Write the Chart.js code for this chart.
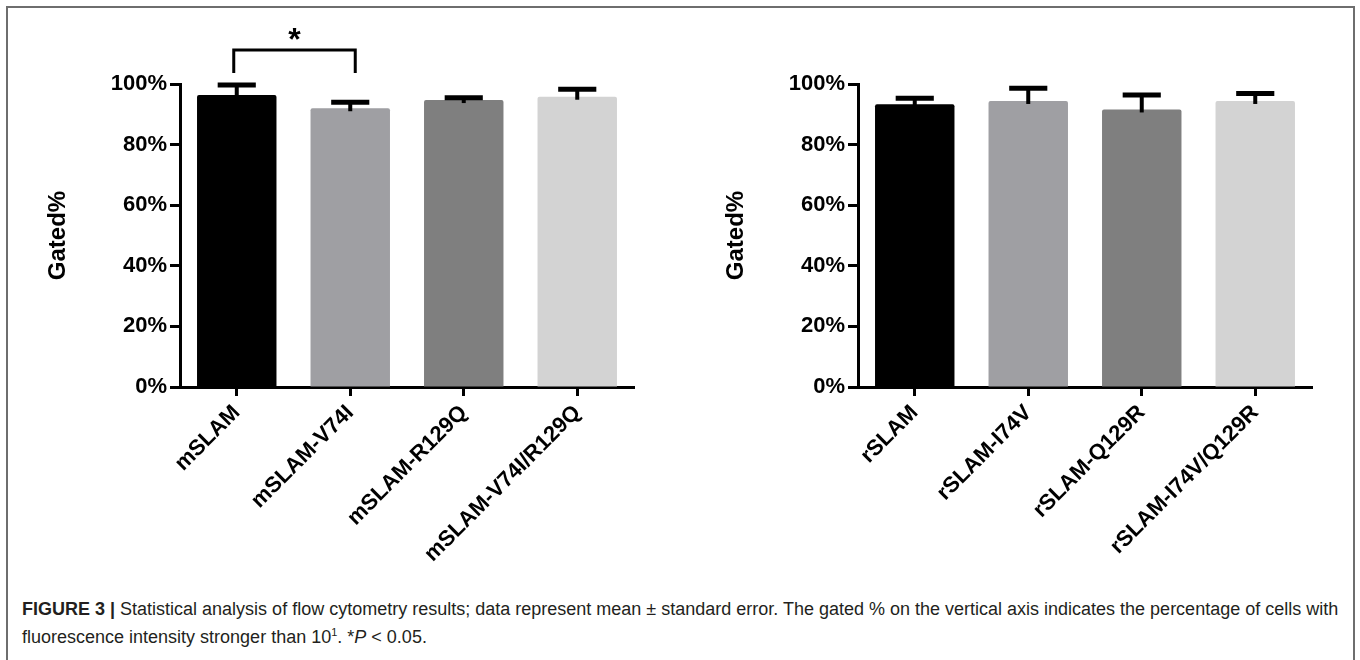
<!DOCTYPE html>
<html><head><meta charset="utf-8">
<script src="https://cdn.jsdelivr.net/npm/chart.js@4.4.0/dist/chart.umd.min.js"></script>
<style>
html,body{margin:0;padding:0;background:#fff;width:1360px;height:660px;overflow:hidden;}
#frame{position:absolute;left:6px;top:6px;width:1349px;height:720px;border:2px solid #6e6e6e;box-sizing:border-box;}
.wrap{position:absolute;top:0;width:680px;height:580px;}
#caption{position:absolute;left:22px;top:595px;font-family:"Liberation Sans",Arial,sans-serif;font-size:18px;line-height:28px;color:#231f20;white-space:nowrap;}
#caption sup{font-size:11px;line-height:0;}
</style></head><body>
<div id="frame"></div>
<div class="wrap" style="left:0"><canvas id="c1" width="680" height="580"></canvas></div>
<div class="wrap" style="left:680px"><canvas id="c2" width="680" height="580"></canvas></div>
<div id="caption"><b>FIGURE 3 |</b> Statistical analysis of flow cytometry results; data represent mean ± standard error. The gated % on the vertical axis indicates the percentage of cells with<br>fluorescence intensity stronger than 10<sup>1</sup>. *<i>P</i> &lt; 0.05.</div>
<script>
// ---- data ----
const mCategories = ['mSLAM', 'mSLAM-V74I', 'mSLAM-R129Q', 'mSLAM-V74I/R129Q'];
const mMeans = [96.4, 92.0, 94.7, 95.8];
const mErrors = [3.3, 2.0, 0.8, 2.5];
const rCategories = ['rSLAM', 'rSLAM-I74V', 'rSLAM-Q129R', 'rSLAM-I74V/Q129R'];
const rMeans = [93.3, 94.4, 91.6, 94.4];
const rErrors = [2.0, 4.2, 4.8, 2.5];
const barColors = ['#000000', '#9f9fa3', '#7f7f7f', '#d3d3d3'];
const yTicks = [0, 20, 40, 60, 80, 100];
const yTitle = 'Gated%';
const sigFrom = 0, sigTo = 1, sigLabel = '*';
const sigLegLow = 103.6, sigTop = 111.2, sigStar = 116.5;

const FONT = '"Liberation Sans", Arial, sans-serif';
Chart.defaults.font.family = FONT;

const errorBars = {
  id: 'errorBars',
  afterDatasetsDraw(chart) {
    const ctx = chart.ctx, ds = chart.data.datasets[0], meta = chart.getDatasetMeta(0), y = chart.scales.y;
    meta.data.forEach((bar, i) => {
      const v = ds.data[i];
      const yTop = y.getPixelForValue(v + ds.errors[i]);
      const yBar = y.getPixelForValue(v);
      const half = bar.width * 0.24;
      ctx.save();
      ctx.strokeStyle = '#000';
      ctx.lineWidth = 4;
      ctx.beginPath(); ctx.moveTo(bar.x, yBar + 3); ctx.lineTo(bar.x, yTop); ctx.stroke();
      ctx.lineWidth = 5;
      ctx.beginPath(); ctx.moveTo(bar.x - half, yTop); ctx.lineTo(bar.x + half, yTop); ctx.stroke();
      ctx.restore();
    });
  }
};

const bracket = {
  id: 'bracket',
  afterDraw(chart, args, opts) {
    if (!opts || !opts.show) return;
    const ctx = chart.ctx, x = chart.scales.x, y = chart.scales.y;
    const x1 = x.getPixelForValue(sigFrom) - 3, x2 = x.getPixelForValue(sigTo) + 5;
    const yl = y.getPixelForValue(sigLegLow), yt = y.getPixelForValue(sigTop);
    ctx.save();
    ctx.strokeStyle = '#000'; ctx.lineWidth = 3; ctx.lineJoin = 'miter';
    ctx.beginPath(); ctx.moveTo(x1, yl); ctx.lineTo(x1, yt); ctx.lineTo(x2, yt); ctx.lineTo(x2, yl); ctx.stroke();
    ctx.fillStyle = '#000'; ctx.font = 'bold 32px ' + FONT; ctx.textAlign = 'center'; ctx.textBaseline = 'middle';
    ctx.fillText(sigLabel, (x1 + x2) / 2, y.getPixelForValue(sigStar) + 7);
    ctx.restore();
  }
};

function makeChart(id, cats, means, errs, yWidth, padRight, titlePad, showBracket) {
  return new Chart(document.getElementById(id), {
    type: 'bar',
    data: {
      labels: cats,
      datasets: [{ data: means, errors: errs, backgroundColor: barColors, borderWidth: 0,
        borderRadius: 2, borderSkipped: 'bottom', categoryPercentage: 1, barPercentage: 0.7 }]
    },
    options: {
      responsive: false, animation: false,
      layout: { padding: { left: 0, top: 84, right: padRight, bottom: 0 } },
      plugins: { legend: { display: false }, tooltip: { enabled: false }, bracket: { show: showBracket } },
      scales: {
        x: {
          offset: true,
          grid: { offset: false, drawOnChartArea: false, drawTicks: true, tickLength: 9, tickColor: '#000', tickWidth: 3 },
          border: { display: true, color: '#000', width: 3 },
          ticks: { minRotation: 45, maxRotation: 45, autoSkip: false, color: '#000', padding: 4,
            font: { size: 22, weight: 'bold' } },
          afterFit(s) { s.height = 580 - 387; }
        },
        y: {
          min: 0, max: 100,
          afterBuildTicks(s) { s.ticks = yTicks.map(v => ({ value: v })); },
          grid: { drawOnChartArea: false, drawTicks: true, tickLength: 10, tickColor: '#000', tickWidth: 3 },
          border: { display: true, color: '#000', width: 3 },
          ticks: { callback: v => v + '%', color: '#000', padding: 3, font: { size: 22, weight: 'bold' } },
          title: { display: true, text: yTitle, color: '#000', font: { size: 24, weight: 'bold' },
            padding: { top: titlePad, bottom: 0 } },
          afterFit(s) { s.width = yWidth; }
        }
      }
    },
    plugins: [errorBars, bracket]
  });
}

makeChart('c1', mCategories, mMeans, mErrors, 180, 46, 44, true);
makeChart('c2', rCategories, rMeans, rErrors, 178, 48, 42, false);
</script>
</body></html>
